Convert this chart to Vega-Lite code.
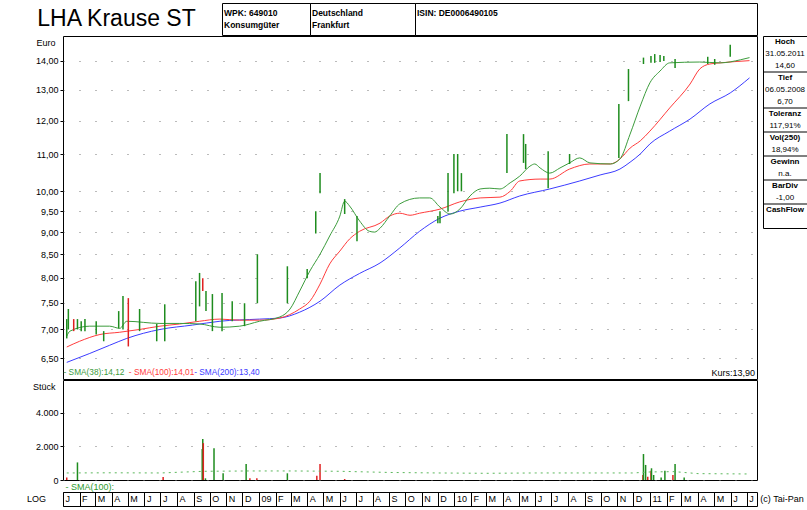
{
  "$schema": "https://vega.github.io/schema/vega-lite/v6.json",
  "background": "white",
  "padding": {"left": 0, "top": 2, "right": 0, "bottom": 0},
  "config": {
    "font": "Liberation Sans",
    "view": {"stroke": "black", "strokeWidth": 1},
    "concat": {"spacing": 0},
    "axis": {"labelFont": "Liberation Sans", "labelFontSize": 9, "labelColor": "black", "tickColor": "black", "domainColor": "black", "titleFont": "Liberation Sans", "titleColor": "black"},
    "text": {"font": "Liberation Sans", "fontSize": 9, "color": "black"}
  },
  "datasets": {
    "sma": [
      {"d":"2008-01-08","v":6.43,"s":"SMA(200)"},{"d":"2008-02-20","v":6.58,"s":"SMA(200)"},{"d":"2008-03-28","v":6.72,"s":"SMA(200)"},{"d":"2008-04-29","v":6.84,"s":"SMA(200)"},{"d":"2008-06-30","v":7.00,"s":"SMA(200)"},{"d":"2008-08-30","v":7.08,"s":"SMA(200)"},{"d":"2008-10-20","v":7.15,"s":"SMA(200)"},{"d":"2009-01-02","v":7.19,"s":"SMA(200)"},{"d":"2009-02-09","v":7.21,"s":"SMA(200)"},{"d":"2009-03-18","v":7.32,"s":"SMA(200)"},{"d":"2009-04-25","v":7.53,"s":"SMA(200)"},{"d":"2009-06-01","v":7.85,"s":"SMA(200)"},{"d":"2009-07-08","v":8.09,"s":"SMA(200)"},{"d":"2009-08-15","v":8.31,"s":"SMA(200)"},{"d":"2009-09-21","v":8.64,"s":"SMA(200)"},{"d":"2009-10-28","v":9.02,"s":"SMA(200)"},{"d":"2009-12-05","v":9.33,"s":"SMA(200)"},{"d":"2010-01-11","v":9.50,"s":"SMA(200)"},{"d":"2010-02-18","v":9.60,"s":"SMA(200)"},{"d":"2010-03-27","v":9.70,"s":"SMA(200)"},{"d":"2010-05-03","v":9.88,"s":"SMA(200)"},{"d":"2010-06-28","v":10.06,"s":"SMA(200)"},{"d":"2010-08-23","v":10.27,"s":"SMA(200)"},{"d":"2010-09-30","v":10.43,"s":"SMA(200)"},{"d":"2010-11-06","v":10.59,"s":"SMA(200)"},{"d":"2010-11-25","v":10.78,"s":"SMA(200)"},{"d":"2010-12-14","v":11.01,"s":"SMA(200)"},{"d":"2011-01-01","v":11.30,"s":"SMA(200)"},{"d":"2011-02-07","v":11.68,"s":"SMA(200)"},{"d":"2011-03-17","v":12.05,"s":"SMA(200)"},{"d":"2011-04-23","v":12.53,"s":"SMA(200)"},{"d":"2011-05-31","v":12.89,"s":"SMA(200)"},{"d":"2011-07-06","v":13.40,"s":"SMA(200)"},
      {"d":"2008-01-08","v":6.69,"s":"SMA(100)"},{"d":"2008-02-01","v":6.79,"s":"SMA(100)"},{"d":"2008-03-10","v":6.91,"s":"SMA(100)"},{"d":"2008-04-16","v":6.95,"s":"SMA(100)"},{"d":"2008-05-23","v":7.00,"s":"SMA(100)"},{"d":"2008-06-30","v":7.06,"s":"SMA(100)"},{"d":"2008-08-06","v":7.10,"s":"SMA(100)"},{"d":"2008-09-12","v":7.15,"s":"SMA(100)"},{"d":"2008-10-20","v":7.19,"s":"SMA(100)"},{"d":"2008-11-26","v":7.17,"s":"SMA(100)"},{"d":"2009-01-02","v":7.17,"s":"SMA(100)"},{"d":"2009-02-09","v":7.21,"s":"SMA(100)"},{"d":"2009-03-18","v":7.38,"s":"SMA(100)"},{"d":"2009-04-06","v":7.53,"s":"SMA(100)"},{"d":"2009-04-25","v":7.87,"s":"SMA(100)"},{"d":"2009-05-13","v":8.29,"s":"SMA(100)"},{"d":"2009-06-01","v":8.57,"s":"SMA(100)"},{"d":"2009-06-19","v":8.84,"s":"SMA(100)"},{"d":"2009-07-08","v":9.02,"s":"SMA(100)"},{"d":"2009-08-15","v":9.21,"s":"SMA(100)"},{"d":"2009-09-02","v":9.38,"s":"SMA(100)"},{"d":"2009-09-21","v":9.45,"s":"SMA(100)"},{"d":"2009-10-10","v":9.40,"s":"SMA(100)"},{"d":"2009-10-28","v":9.45,"s":"SMA(100)"},{"d":"2009-12-05","v":9.55,"s":"SMA(100)"},{"d":"2010-01-11","v":9.73,"s":"SMA(100)"},{"d":"2010-02-18","v":9.83,"s":"SMA(100)"},{"d":"2010-03-27","v":9.85,"s":"SMA(100)"},{"d":"2010-04-15","v":10.00,"s":"SMA(100)"},{"d":"2010-05-03","v":10.27,"s":"SMA(100)"},{"d":"2010-06-10","v":10.32,"s":"SMA(100)"},{"d":"2010-06-28","v":10.32,"s":"SMA(100)"},{"d":"2010-08-04","v":10.59,"s":"SMA(100)"},{"d":"2010-09-11","v":10.73,"s":"SMA(100)"},{"d":"2010-10-19","v":10.73,"s":"SMA(100)"},{"d":"2010-11-06","v":10.87,"s":"SMA(100)"},{"d":"2010-11-25","v":11.18,"s":"SMA(100)"},{"d":"2010-12-14","v":11.39,"s":"SMA(100)"},{"d":"2011-01-01","v":11.68,"s":"SMA(100)"},{"d":"2011-02-07","v":12.40,"s":"SMA(100)"},{"d":"2011-03-17","v":13.19,"s":"SMA(100)"},{"d":"2011-04-04","v":13.71,"s":"SMA(100)"},{"d":"2011-04-23","v":13.89,"s":"SMA(100)"},{"d":"2011-05-12","v":13.93,"s":"SMA(100)"},{"d":"2011-07-06","v":14.01,"s":"SMA(100)"},
      {"d":"2008-01-08","v":6.88,"s":"SMA(38)"},{"d":"2008-01-14","v":6.97,"s":"SMA(38)"},{"d":"2008-02-20","v":7.06,"s":"SMA(38)"},{"d":"2008-03-28","v":7.06,"s":"SMA(38)"},{"d":"2008-04-16","v":7.02,"s":"SMA(38)"},{"d":"2008-04-29","v":7.15,"s":"SMA(38)"},{"d":"2008-06-30","v":7.11,"s":"SMA(38)"},{"d":"2008-08-06","v":7.11,"s":"SMA(38)"},{"d":"2008-09-12","v":7.10,"s":"SMA(38)"},{"d":"2008-10-20","v":7.04,"s":"SMA(38)"},{"d":"2008-11-26","v":7.06,"s":"SMA(38)"},{"d":"2009-01-02","v":7.15,"s":"SMA(38)"},{"d":"2009-02-09","v":7.23,"s":"SMA(38)"},{"d":"2009-02-28","v":7.38,"s":"SMA(38)"},{"d":"2009-03-18","v":7.73,"s":"SMA(38)"},{"d":"2009-04-06","v":8.14,"s":"SMA(38)"},{"d":"2009-04-25","v":8.50,"s":"SMA(38)"},{"d":"2009-05-13","v":8.91,"s":"SMA(38)"},{"d":"2009-06-01","v":9.38,"s":"SMA(38)"},{"d":"2009-06-10","v":9.75,"s":"SMA(38)"},{"d":"2009-06-19","v":9.63,"s":"SMA(38)"},{"d":"2009-07-08","v":9.26,"s":"SMA(38)"},{"d":"2009-07-26","v":9.02,"s":"SMA(38)"},{"d":"2009-08-05","v":9.00,"s":"SMA(38)"},{"d":"2009-08-15","v":9.09,"s":"SMA(38)"},{"d":"2009-09-02","v":9.38,"s":"SMA(38)"},{"d":"2009-09-21","v":9.68,"s":"SMA(38)"},{"d":"2009-10-28","v":9.83,"s":"SMA(38)"},{"d":"2009-11-16","v":9.83,"s":"SMA(38)"},{"d":"2009-12-05","v":9.60,"s":"SMA(38)"},{"d":"2009-12-24","v":9.43,"s":"SMA(38)"},{"d":"2010-01-11","v":9.55,"s":"SMA(38)"},{"d":"2010-01-30","v":9.88,"s":"SMA(38)"},{"d":"2010-02-18","v":10.06,"s":"SMA(38)"},{"d":"2010-03-08","v":10.08,"s":"SMA(38)"},{"d":"2010-03-27","v":10.06,"s":"SMA(38)"},{"d":"2010-04-15","v":10.22,"s":"SMA(38)"},{"d":"2010-05-03","v":10.40,"s":"SMA(38)"},{"d":"2010-05-22","v":10.67,"s":"SMA(38)"},{"d":"2010-05-31","v":10.73,"s":"SMA(38)"},{"d":"2010-06-10","v":10.62,"s":"SMA(38)"},{"d":"2010-06-28","v":10.48,"s":"SMA(38)"},{"d":"2010-07-17","v":10.62,"s":"SMA(38)"},{"d":"2010-08-04","v":10.76,"s":"SMA(38)"},{"d":"2010-08-23","v":10.90,"s":"SMA(38)"},{"d":"2010-09-11","v":10.76,"s":"SMA(38)"},{"d":"2010-10-19","v":10.73,"s":"SMA(38)"},{"d":"2010-11-06","v":10.87,"s":"SMA(38)"},{"d":"2010-11-25","v":11.59,"s":"SMA(38)"},{"d":"2010-12-14","v":12.46,"s":"SMA(38)"},{"d":"2011-01-01","v":13.23,"s":"SMA(38)"},{"d":"2011-01-20","v":13.64,"s":"SMA(38)"},{"d":"2011-02-07","v":13.93,"s":"SMA(38)"},{"d":"2011-04-04","v":13.96,"s":"SMA(38)"},{"d":"2011-05-12","v":13.93,"s":"SMA(38)"},{"d":"2011-06-19","v":14.04,"s":"SMA(38)"},{"d":"2011-07-06","v":14.12,"s":"SMA(38)"}
    ],
    "bars": [
      {"d":"2008-01-08","hi":7.19,"lo":6.84,"dir":"up"},{"d":"2008-01-11","hi":7.38,"lo":7.00,"dir":"up"},{"d":"2008-01-21","hi":7.19,"lo":6.97,"dir":"down"},{"d":"2008-01-28","hi":7.19,"lo":7.00,"dir":"up"},{"d":"2008-02-04","hi":7.15,"lo":6.97,"dir":"up"},{"d":"2008-02-11","hi":7.19,"lo":6.97,"dir":"up"},{"d":"2008-03-03","hi":7.15,"lo":6.91,"dir":"up"},{"d":"2008-03-17","hi":6.97,"lo":6.79,"dir":"up"},{"d":"2008-04-14","hi":7.34,"lo":7.02,"dir":"up"},{"d":"2008-04-22","hi":7.63,"lo":7.00,"dir":"up"},{"d":"2008-05-02","hi":7.59,"lo":6.70,"dir":"down"},{"d":"2008-05-23","hi":7.38,"lo":6.97,"dir":"up"},{"d":"2008-06-24","hi":7.10,"lo":6.79,"dir":"up"},{"d":"2008-07-09","hi":7.47,"lo":6.79,"dir":"up"},{"d":"2008-09-05","hi":7.93,"lo":7.15,"dir":"up"},{"d":"2008-09-12","hi":8.10,"lo":7.43,"dir":"up"},{"d":"2008-09-18","hi":7.99,"lo":7.73,"dir":"down"},{"d":"2008-09-24","hi":7.73,"lo":7.34,"dir":"up"},{"d":"2008-10-06","hi":7.67,"lo":6.97,"dir":"up"},{"d":"2008-10-24","hi":7.69,"lo":6.97,"dir":"up"},{"d":"2008-11-12","hi":7.53,"lo":7.15,"dir":"up"},{"d":"2008-12-05","hi":7.49,"lo":7.06,"dir":"up"},{"d":"2008-12-29","hi":8.50,"lo":7.49,"dir":"up"},{"d":"2009-02-23","hi":8.24,"lo":7.49,"dir":"up"},{"d":"2009-04-01","hi":8.18,"lo":7.99,"dir":"up"},{"d":"2009-04-17","hi":9.50,"lo":8.97,"dir":"up"},{"d":"2009-04-25","hi":10.48,"lo":9.95,"dir":"up"},{"d":"2009-06-10","hi":9.80,"lo":9.43,"dir":"up"},{"d":"2009-07-03","hi":9.38,"lo":8.79,"dir":"up"},{"d":"2009-12-01","hi":9.38,"lo":9.21,"dir":"up"},{"d":"2009-12-05","hi":9.50,"lo":9.21,"dir":"up"},{"d":"2009-12-20","hi":10.48,"lo":9.50,"dir":"up"},{"d":"2009-12-31","hi":11.01,"lo":9.95,"dir":"up"},{"d":"2010-01-07","hi":11.01,"lo":10.00,"dir":"up"},{"d":"2010-01-14","hi":10.48,"lo":10.00,"dir":"up"},{"d":"2010-04-09","hi":11.59,"lo":10.48,"dir":"up"},{"d":"2010-05-10","hi":11.59,"lo":10.76,"dir":"up"},{"d":"2010-05-14","hi":11.30,"lo":10.59,"dir":"up"},{"d":"2010-06-25","hi":11.09,"lo":10.08,"dir":"up"},{"d":"2010-08-04","hi":11.01,"lo":10.73,"dir":"up"},{"d":"2010-11-04","hi":12.53,"lo":10.90,"dir":"up"},{"d":"2010-11-22","hi":13.71,"lo":12.62,"dir":"up"},{"d":"2010-12-20","hi":14.12,"lo":13.89,"dir":"up"},{"d":"2011-01-03","hi":14.18,"lo":13.93,"dir":"up"},{"d":"2011-01-10","hi":14.25,"lo":13.93,"dir":"up"},{"d":"2011-01-20","hi":14.22,"lo":13.96,"dir":"up"},{"d":"2011-01-27","hi":14.18,"lo":14.00,"dir":"up"},{"d":"2011-02-17","hi":14.07,"lo":13.75,"dir":"up"},{"d":"2011-04-19","hi":14.15,"lo":13.89,"dir":"up"},{"d":"2011-05-02","hi":14.07,"lo":13.86,"dir":"up"},{"d":"2011-05-31","hi":14.60,"lo":14.15,"dir":"up"}
    ],
    "lab": [
      {"d":"2008-01-02","v":6.26,"t":"- SMA(38):14,12","s":"SMA(38)"},
      {"d":"2008-05-03","v":6.26,"t":"- SMA(100):14,01","s":"SMA(100)"},
      {"d":"2008-09-02","v":6.26,"t":"- SMA(200):13,40","s":"SMA(200)"}
    ],
    "vol": [
      {"d":"2008-01-08","v":150,"dir":"down"},{"d":"2008-01-28","v":1050,"dir":"up"},{"d":"2008-07-06","v":180,"dir":"down"},{"d":"2008-09-17","v":1850,"dir":"up"},{"d":"2008-09-18","v":2450,"dir":"up"},{"d":"2008-09-19","v":2200,"dir":"down"},{"d":"2008-09-23","v":100,"dir":"up"},{"d":"2008-10-09","v":1900,"dir":"up"},{"d":"2008-10-26","v":400,"dir":"up"},{"d":"2008-12-08","v":950,"dir":"up"},{"d":"2008-12-15","v":100,"dir":"down"},{"d":"2008-12-28","v":100,"dir":"down"},{"d":"2009-02-23","v":400,"dir":"up"},{"d":"2009-04-19","v":250,"dir":"down"},{"d":"2009-04-25","v":950,"dir":"down"},{"d":"2009-06-10","v":60,"dir":"down"},{"d":"2010-12-19","v":300,"dir":"down"},{"d":"2010-12-20","v":1550,"dir":"up"},{"d":"2010-12-24","v":900,"dir":"up"},{"d":"2010-12-28","v":200,"dir":"down"},{"d":"2011-01-03","v":550,"dir":"down"},{"d":"2011-01-04","v":700,"dir":"up"},{"d":"2011-01-08","v":300,"dir":"up"},{"d":"2011-01-22","v":150,"dir":"up"},{"d":"2011-01-29","v":550,"dir":"up"},{"d":"2011-02-13","v":300,"dir":"down"},{"d":"2011-02-17","v":950,"dir":"up"},{"d":"2011-03-06","v":150,"dir":"up"}
    ],
    "vsma": [
      {"d":"2008-01-08","v":420},{"d":"2008-04-01","v":430},{"d":"2008-07-01","v":420},{"d":"2008-09-20","v":520},{"d":"2008-12-15","v":540},{"d":"2009-03-01","v":540},{"d":"2009-06-01","v":520},{"d":"2009-09-01","v":450},{"d":"2009-12-01","v":420},{"d":"2010-03-01","v":400},{"d":"2010-06-01","v":420},{"d":"2010-09-01","v":420},{"d":"2010-12-01","v":420},{"d":"2011-01-01","v":480},{"d":"2011-02-15","v":500},{"d":"2011-04-01","v":380},{"d":"2011-07-06","v":360}
    ],
    "stats": [
      {"i":0,"t":"Hoch","h":1},{"i":1,"t":"31.05.2011","h":0},{"i":2,"t":"14,60","h":0},
      {"i":3,"t":"Tief","h":1},{"i":4,"t":"06.05.2008","h":0},{"i":5,"t":"6,70","h":0},
      {"i":6,"t":"Toleranz","h":1},{"i":7,"t":"117,91%","h":0},
      {"i":8,"t":"Vol(250)","h":1},{"i":9,"t":"18,94%","h":0},
      {"i":10,"t":"Gewinn","h":1},{"i":11,"t":"n.a.","h":0},
      {"i":12,"t":"BarDiv","h":1},{"i":13,"t":"-1,00","h":0},
      {"i":14,"t":"CashFlow","h":1},{"i":15,"t":"","h":0}
    ]
  },
  "spacing": -2,
  "bounds": "full",
  "vconcat": [
    {
      "spacing": 0,
      "bounds": "flush",
      "hconcat": [
        {"width": 35, "height": 32, "view": {"stroke": null}, "data": {"values": [{"t": ""}]}, "mark": "text", "encoding": {"text": {"field": "t"}}},
        {"width": 187, "height": 32, "data": {"values": [{"t": "LHA Krause ST"}]}, "mark": {"type": "text", "fontSize": 23, "dx": -12, "baseline": "middle"}, "encoding": {"text": {"field": "t"}}},
        {"width": 88, "height": 32, "data": {"values": [{"l": 1, "t": "WPK: 649010"}, {"l": 2, "t": "Konsumgüter"}]}, "mark": {"type": "text", "align": "left", "baseline": "middle", "fontWeight": "bold", "fontSize": 8.5, "dx": 2},
         "encoding": {"x": {"datum": "a", "type": "nominal", "scale": {"type": "point", "padding": 0, "align": 0}, "axis": null}, "y": {"field": "l", "type": "ordinal", "scale": {"type": "point", "padding": 0.8}, "axis": null}, "text": {"field": "t"}}},
        {"width": 105, "height": 32, "data": {"values": [{"l": 1, "t": "Deutschland"}, {"l": 2, "t": "Frankfurt"}]}, "mark": {"type": "text", "align": "left", "baseline": "middle", "fontWeight": "bold", "fontSize": 8.5, "dx": 2},
         "encoding": {"x": {"datum": "a", "type": "nominal", "scale": {"type": "point", "padding": 0, "align": 0}, "axis": null}, "y": {"field": "l", "type": "ordinal", "scale": {"type": "point", "padding": 0.8}, "axis": null}, "text": {"field": "t"}}},
        {"width": 342, "height": 32, "data": {"values": [{"l": 1, "t": "ISIN: DE0006490105"}, {"l": 2, "t": ""}]}, "mark": {"type": "text", "align": "left", "baseline": "middle", "fontWeight": "bold", "fontSize": 8.5, "dx": 2},
         "encoding": {"x": {"datum": "a", "type": "nominal", "scale": {"type": "point", "padding": 0, "align": 0}, "axis": null}, "y": {"field": "l", "type": "ordinal", "scale": {"type": "point", "padding": 0.8}, "axis": null}, "text": {"field": "t"}}},
        {"width": 50, "height": 32, "view": {"stroke": null}, "data": {"values": [{"t": ""}]}, "mark": "text", "encoding": {"text": {"field": "t"}}}
      ]
    },
    {
      "spacing": 0,
      "bounds": "flush",
      "hconcat": [
        {"width": 10, "height": 343, "view": {"stroke": null}, "data": {"values": [{"t": ""}]}, "mark": "text", "encoding": {"text": {"field": "t"}}},
        {"width": 53, "height": 343, "data": {"values": [{"t": ""}]}, "mark": "text", "encoding": {"text": {"field": "t"}}},
        {
          "spacing": 6,
          "bounds": "flush",
          "hconcat": [
            {
              "width": 694, "height": 343,
              "layer": [
                {
                  "data": {"name": "sma"},
                  "mark": {"type": "line", "strokeWidth": 1, "interpolate": "monotone"},
                  "encoding": {
                    "x": {"field": "d", "type": "temporal", "scale": {"type": "utc", "domain": [{"year": 2008, "month": 1, "date": 1, "utc": true}, {"year": 2011, "month": 7, "date": 20, "utc": true}]}, "axis": null},
                    "y": {"field": "v", "type": "quantitative", "scale": {"type": "log", "domain": [6.16, 14.93], "nice": false, "zero": false},
                      "axis": {"values": [6.5, 7, 7.5, 8, 8.5, 9, 9.5, 10, 11, 12, 13, 14], "labelExpr": "replace(format(datum.value, '.2f'), '.', ',')", "tickSize": 3, "labelPadding": 2, "grid": true, "gridDash": [1, 15], "gridColor": "#777", "domain": false, "title": "Euro", "titleAngle": 0, "titleAlign": "right", "titleBaseline": "top", "titleX": -8, "titleY": 2, "titleFontWeight": "normal", "titleFontSize": 9}},
                    "color": {"field": "s", "type": "nominal", "scale": {"domain": ["SMA(38)", "SMA(100)", "SMA(200)", "up", "down"], "range": ["#3c9c3c", "#ff3c3c", "#3c3cff", "#1e8c1e", "#e02020"]}, "legend": null}
                  }
                },
                {
                  "data": {"name": "bars"},
                  "mark": {"type": "rule", "strokeWidth": 1.5},
                  "encoding": {
                    "x": {"field": "d", "type": "temporal", "axis": null},
                    "y": {"field": "hi", "type": "quantitative"},
                    "y2": {"field": "lo"},
                    "color": {"field": "dir", "type": "nominal", "legend": null}
                  }
                },
                {
                  "data": {"name": "lab"},
                  "mark": {"type": "text", "align": "left", "baseline": "middle", "fontSize": 8.3},
                  "encoding": {
                    "x": {"field": "d", "type": "temporal", "axis": null},
                    "y": {"field": "v", "type": "quantitative"},
                    "text": {"field": "t"},
                    "color": {"field": "s", "type": "nominal", "legend": null}
                  }
                },
                {
                  "data": {"values": [{"d": "2011-07-20", "v": 6.26, "t": "Kurs:13,90"}]},
                  "mark": {"type": "text", "align": "right", "baseline": "middle", "dx": -2, "color": "black"},
                  "encoding": {
                    "x": {"field": "d", "type": "temporal", "axis": null},
                    "y": {"field": "v", "type": "quantitative"},
                    "text": {"field": "t"}
                  }
                }
              ]
            },
            {
              "width": 44, "height": 192,
              "data": {"name": "stats"},
              "layer": [
                {
                  "transform": [{"filter": "datum.h == 1"}],
                  "mark": {"type": "text", "baseline": "middle", "fontWeight": "bold", "fontSize": 8},
                  "encoding": {
                    "y": {"field": "i", "type": "ordinal", "scale": {"type": "band", "paddingInner": 0, "paddingOuter": 0, "domain": [0,1,2,3,4,5,6,7,8,9,10,11,12,13,14,15]}, "axis": null, "bandPosition": 0.5},
                    "text": {"field": "t"}
                  }
                },
                {
                  "transform": [{"filter": "datum.h == 0"}],
                  "mark": {"type": "text", "baseline": "middle", "fontSize": 8},
                  "encoding": {
                    "y": {"field": "i", "type": "ordinal", "axis": null, "bandPosition": 0.5},
                    "text": {"field": "t"}
                  }
                },
                {
                  "transform": [{"filter": "datum.h == 1 && datum.i > 0"}],
                  "mark": {"type": "rule", "color": "black", "strokeWidth": 1},
                  "encoding": {
                    "y": {"field": "i", "type": "ordinal", "axis": null, "bandPosition": 0}
                  }
                }
              ]
            }
          ]
        }
      ]
    },
    {
      "spacing": 0,
      "bounds": "flush",
      "hconcat": [
        {"width": 10, "height": 111, "view": {"stroke": null}, "data": {"values": [{"t": ""}]}, "mark": "text", "encoding": {"text": {"field": "t"}}},
        {"width": 53, "height": 111, "data": {"values": [{"t": ""}]}, "mark": "text", "encoding": {"text": {"field": "t"}}},
        {
          "width": 694, "height": 100,
          "layer": [
            {
              "data": {"name": "vol"},
              "mark": {"type": "rule", "strokeWidth": 1.5},
              "encoding": {
                "x": {"field": "d", "type": "temporal", "scale": {"type": "utc", "domain": [{"year": 2008, "month": 1, "date": 1, "utc": true}, {"year": 2011, "month": 7, "date": 20, "utc": true}]},
                  "axis": {"orient": "bottom", "labels": false, "ticks": false, "domain": false, "grid": false, "title": "- SMA(100):", "titleColor": "#2e9b2e", "titleFontWeight": "normal", "titleFontSize": 9, "titleAnchor": "start", "titleAlign": "left", "titleBaseline": "middle", "titleX": 2, "titleY": 6}},
                "y": {"field": "v", "type": "quantitative", "scale": {"domain": [0, 5970], "nice": false},
                  "axis": {"values": [0, 1000, 2000, 3000, 4000, 5000], "labelExpr": "datum.value == 5000 ? '' : datum.value == 0 ? '0' : replace(format(datum.value, ',.0f'), ',', '.')", "tickSize": 3, "labelPadding": 2, "grid": true, "gridDash": [1, 15], "gridColor": "#777", "domain": false, "title": "Stück", "titleAngle": 0, "titleAlign": "right", "titleBaseline": "top", "titleX": -8, "titleY": 2, "titleFontWeight": "normal", "titleFontSize": 9}},
                "y2": {"datum": 0},
                "color": {"field": "dir", "type": "nominal", "scale": {"domain": ["up", "down"], "range": ["#1e8c1e", "#e02020"]}, "legend": null}
              }
            },
            {
              "data": {"name": "vsma"},
              "mark": {"type": "line", "strokeWidth": 1, "strokeDash": [2, 4], "color": "#5cb85c"},
              "encoding": {
                "x": {"field": "d", "type": "temporal"},
                "y": {"field": "v", "type": "quantitative"}
              }
            }
          ]
        }
      ]
    },
    {
      "spacing": 0,
      "bounds": "flush",
      "hconcat": [
        {"width": 10, "height": 14, "view": {"stroke": null}, "data": {"values": [{"t": ""}]}, "mark": "text", "encoding": {"text": {"field": "t"}}},
        {"width": 53, "height": 14, "data": {"values": [{"t": "LOG"}]}, "mark": {"type": "text", "baseline": "middle"}, "encoding": {"text": {"field": "t"}}},
        {
          "width": 694, "height": 14,
          "data": {"name": "vsma"},
          "mark": {"type": "text", "text": ""},
          "encoding": {
            "x": {"field": "d", "type": "temporal", "scale": {"type": "utc", "domain": [{"year": 2008, "month": 1, "date": 1, "utc": true}, {"year": 2011, "month": 7, "date": 20, "utc": true}]},
              "axis": {"orient": "bottom", "offset": -14, "domain": false, "tickCount": {"interval": "month", "step": 1}, "tickSize": 14, "labelAlign": "left", "labelBaseline": "top", "labelPadding": -12, "labelOffset": 2, "labelFlush": false, "labelOverlap": false, "labelBound": false,
                "labelExpr": "utcmonth(datum.value) == 0 && utcyear(datum.value) > 2008 ? utcFormat(datum.value, '%y') : substring('JFMAMJJASOND', utcmonth(datum.value), utcmonth(datum.value) + 1)",
                "grid": false, "title": null}}
          }
        },
        {"width": 50, "height": 14, "view": {"stroke": null}, "data": {"values": [{"t": "(c) Tai-Pan"}]}, "mark": {"type": "text", "baseline": "middle"}, "encoding": {"text": {"field": "t"}}}
      ]
    },
    {
      "spacing": 0,
      "bounds": "flush",
      "hconcat": [
        {"width": 63, "height": 12, "view": {"stroke": null}, "data": {"values": [{"t": "T:07.01.08"}]}, "mark": {"type": "text", "baseline": "middle"}, "encoding": {"text": {"field": "t"}}},
        {
          "width": 694, "height": 12, "view": {"stroke": null},
          "layer": [
            {"data": {"values": [{"t": "08.01.2008"}]}, "mark": {"type": "text", "align": "left", "baseline": "middle", "dx": 1}, "encoding": {"x": {"datum": "a", "type": "nominal", "scale": {"type": "point", "padding": 0, "domain": ["a", "b", "c"]}, "axis": null}, "text": {"field": "t"}}},
            {"data": {"values": [{"t": "900 Kurse"}]}, "mark": {"type": "text", "align": "center", "baseline": "middle"}, "encoding": {"x": {"datum": "b", "type": "nominal"}, "text": {"field": "t"}}},
            {"data": {"values": [{"t": "06.07.2011"}]}, "mark": {"type": "text", "align": "right", "baseline": "middle", "dx": -1}, "encoding": {"x": {"datum": "c", "type": "nominal"}, "text": {"field": "t"}}}
          ]
        }
      ]
    }
  ]
}
